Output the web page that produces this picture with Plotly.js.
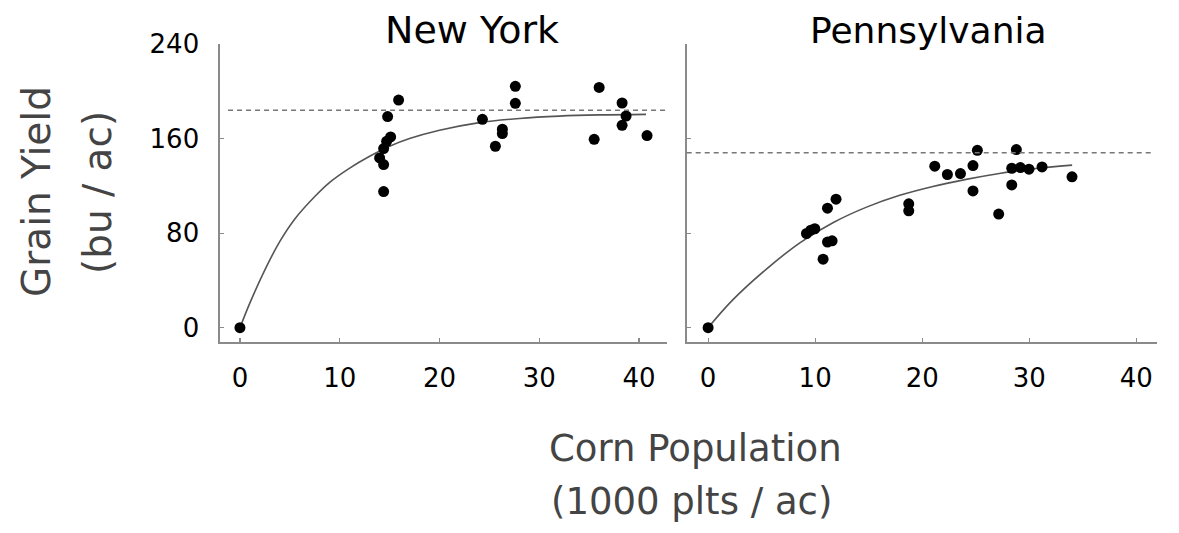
<!DOCTYPE html>
<html>
<head>
<meta charset="utf-8">
<script src="https://cdn.plot.ly/plotly-3.0.1.min.js"></script>
<style>html,body{margin:0;padding:0;background:#fff;}#chart{width:1179px;height:533px;}</style>
</head>
<body>
<div id="chart"></div>
<script>
// ---- Data ----
var panelTitles = ["New York", "Pennsylvania"];
var xTickVals = [0, 10, 20, 30, 40];
var yTickVals = [0, 80, 160, 240];

// New York observations (1000 plants/ac, bu/ac)
var nyX = [0, 15.9, 14.8, 15.1, 14.7, 14.4, 14.0, 14.4, 14.4, 24.3, 26.3, 26.3, 25.6, 27.6, 27.6, 36.0, 38.3, 38.7, 38.3, 35.5, 40.8];
var nyY = [0, 192.6, 178.6, 161.4, 157.7, 151.5, 143.6, 138.0, 115.2, 176.3, 167.9, 164.2, 153.5, 204.2, 189.8, 203.3, 190.1, 179.1, 171.2, 159.4, 162.5];
// New York fitted response curve
var nyFitX = [0, 1, 2.5, 4, 5.5, 7.5, 9, 11, 13, 15, 17, 20, 24, 28, 32, 36, 40.7];
var nyFitY = [0, 21, 49, 73, 92, 111, 123, 135, 145, 153.5, 160, 167, 173.5, 177, 179, 180, 180.5];
var nyRef = 184;

// Pennsylvania observations
var paX = [0, 9.19, 9.59, 9.96, 11.15, 11.58, 10.74, 11.15, 11.95, 18.74, 18.74, 21.17, 22.35, 23.57, 24.74, 25.15, 24.74, 27.14, 28.36, 28.36, 28.79, 29.17, 29.97, 31.19, 33.99];
var paY = [0, 79.7, 82.5, 83.7, 72.4, 73.5, 58.0, 101.1, 108.7, 104.8, 98.9, 136.6, 129.6, 130.4, 137.2, 150.1, 115.7, 96.1, 120.8, 134.9, 150.7, 135.5, 134.1, 136.0, 127.6];
// Pennsylvania fitted response curve
var paFitX = [0, 2.3, 5.5, 8.6, 11.7, 14.8, 17.9, 21, 24.1, 27.2, 30.4, 34];
var paFitY = [0, 23.5, 50, 72, 89, 102, 112, 119.5, 125.5, 130.5, 134.5, 137.5];
var paRef = 148;

var yTitle = ["Grain Yield", "(bu / ac)"];
var xTitle = ["Corn Population", "(1000 plts / ac)"];

// ---- Layout helpers ----
var W = 1179, H = 533;
function px(x) { return x / W; }
function py(y) { return 1 - y / H; }

var FONT = "DejaVu Sans, sans-serif";
var axisCol = "#8a8a8a";

var traces = [
  {x: nyFitX, y: nyFitY, xaxis: "x", yaxis: "y", mode: "lines",
   line: {color: "#555", width: 1.6, shape: "spline", smoothing: 1}, hoverinfo: "skip"},
  {x: nyX, y: nyY, xaxis: "x", yaxis: "y", mode: "markers",
   marker: {color: "#000", size: 11}},
  {x: paFitX, y: paFitY, xaxis: "x2", yaxis: "y2", mode: "lines",
   line: {color: "#555", width: 1.6, shape: "spline", smoothing: 1}, hoverinfo: "skip"},
  {x: paX, y: paY, xaxis: "x2", yaxis: "y2", mode: "markers",
   marker: {color: "#000", size: 11}}
];

function xAxis(domain, range, anchor) {
  return {
    domain: domain, range: range, anchor: anchor,
    tickvals: xTickVals, ticktext: xTickVals.map(String),
    showgrid: false, zeroline: false,
    showline: true, linecolor: axisCol, linewidth: 1.6,
    ticks: "inside", ticklen: 4, tickcolor: axisCol, tickwidth: 1.2,
    ticklabelstandoff: 12,
    tickfont: {family: FONT, size: 26, color: "#000"}
  };
}
function yAxis(range, anchor, showLabels) {
  return {
    domain: [py(342), py(44)], range: range, anchor: anchor,
    tickvals: yTickVals, ticktext: yTickVals.map(String),
    showticklabels: showLabels,
    showgrid: false, zeroline: false,
    showline: true, linecolor: axisCol, linewidth: 1.6,
    ticks: "inside", ticklen: 4, tickcolor: axisCol, tickwidth: 1.2,
    ticklabelstandoff: 14,
    tickfont: {family: FONT, size: 26, color: "#000"}
  };
}

var annotations = [
  {text: panelTitles[0], x: px(472), y: py(30), xref: "paper", yref: "paper",
   xanchor: "center", yanchor: "middle", showarrow: false,
   font: {family: FONT, size: 38, color: "#000"}},
  {text: panelTitles[1], x: px(928), y: py(30), xref: "paper", yref: "paper",
   xanchor: "center", yanchor: "middle", showarrow: false,
   font: {family: FONT, size: 36, color: "#000"}},
  {text: yTitle[0], x: px(37), y: py(192), xref: "paper", yref: "paper",
   xanchor: "center", yanchor: "middle", showarrow: false, textangle: -90,
   font: {family: FONT, size: 39, color: "#444"}},
  {text: yTitle[1], x: px(98), y: py(192), xref: "paper", yref: "paper",
   xanchor: "center", yanchor: "middle", showarrow: false, textangle: -90,
   font: {family: FONT, size: 39, color: "#444"}},
  {text: xTitle[0], x: px(695), y: py(448), xref: "paper", yref: "paper",
   xanchor: "center", yanchor: "middle", showarrow: false,
   font: {family: FONT, size: 37, color: "#444"}},
  {text: xTitle[1], x: px(691), y: py(501), xref: "paper", yref: "paper",
   xanchor: "center", yanchor: "middle", showarrow: false,
   font: {family: FONT, size: 37, color: "#444"}}
];

var shapes = [
  {type: "line", xref: "x domain", yref: "y", x0: 0.018, x1: 1, y0: nyRef, y1: nyRef,
   line: {color: "#777", width: 1.6, dash: "5px,4px"}},
  {type: "line", xref: "x2 domain", yref: "y2", x0: 0, x1: 0.995, y0: paRef, y1: paRef,
   line: {color: "#777", width: 1.6, dash: "5px,4px"}}
];

var layout = {
  width: W, height: H,
  margin: {l: 0, r: 0, t: 0, b: 0},
  paper_bgcolor: "#fff", plot_bgcolor: "#fff",
  showlegend: false,
  xaxis: xAxis([px(220), px(667)], [-2.0, 42.8], "y"),
  yaxis: yAxis([-12.1, 240], "x", true),
  xaxis2: xAxis([px(686.7), px(1156.7)], [-2.0, 41.9], "y2"),
  yaxis2: yAxis([-12.1, 240], "x2", false),
  annotations: annotations,
  shapes: shapes
};

Plotly.newPlot("chart", traces, layout, {displayModeBar: false, staticPlot: true});
</script>
</body>
</html>
